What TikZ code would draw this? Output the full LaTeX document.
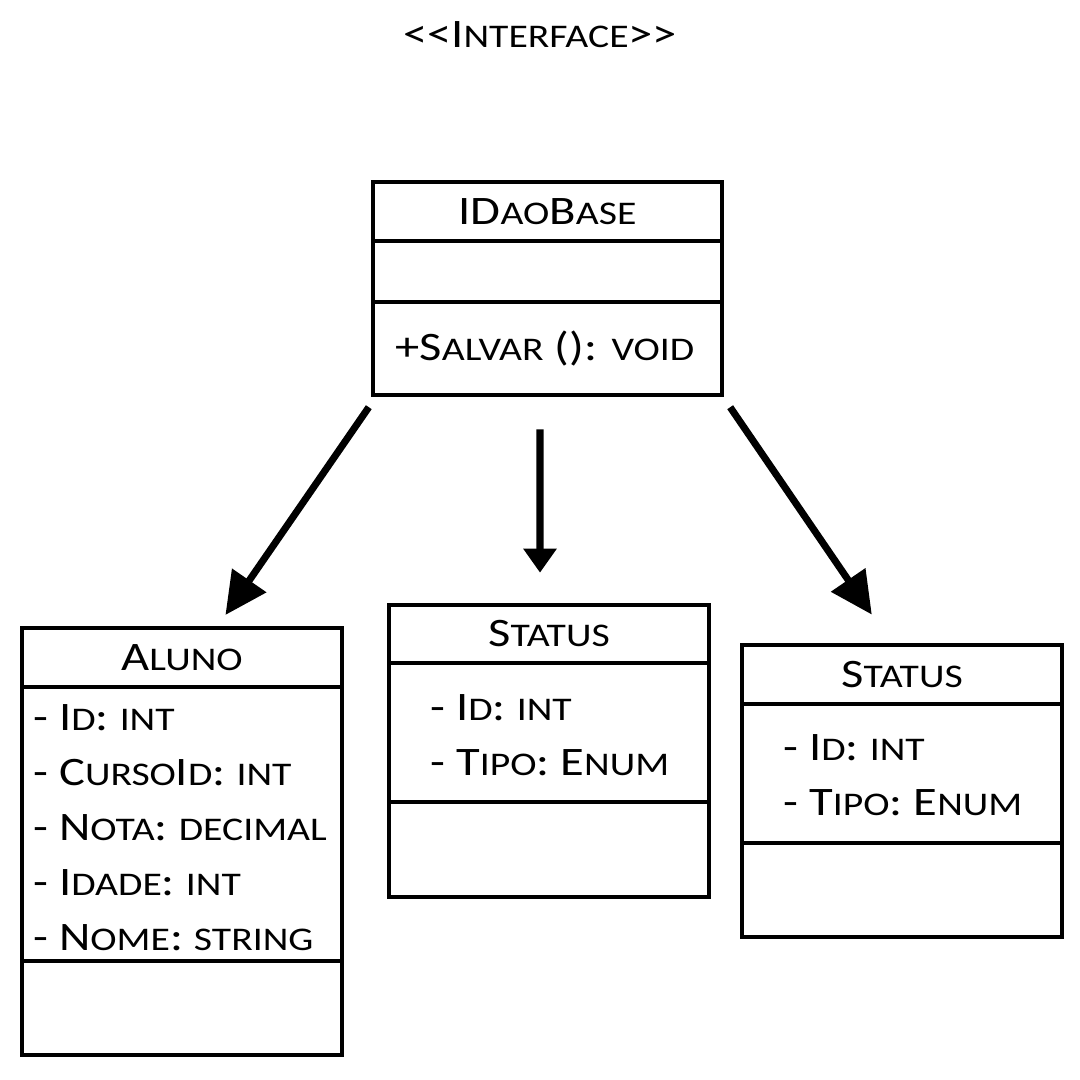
\documentclass[tikz,border=0pt]{standalone}
\usepackage{fontspec}
\setmainfont{Carlito}[FakeStretch=1.2]
\usetikzlibrary{arrows.meta}

\newcommand{\smc}[1]{{\fontsize{9.4pt}{10pt}\selectfont\MakeUppercase{#1}}}

\begin{document}
\begin{tikzpicture}[x=0.01cm, y=-0.01cm,
        box/.style = {draw, line width=1.3pt, minimum width=3.2cm, inner sep=0pt, font=\fontsize{11.5pt}{15.65pt}\selectfont},
        txt/.style = {anchor=west, align=left, inner sep=0pt, font=\fontsize{11.5pt}{15.65pt}\selectfont},
        arr/.style = {line width=2pt, -{Triangle[length=0.42cm, width=0.4cm]}}]
                \useasboundingbox (0,0) rectangle (1080,1080);

                \node[txt, anchor=center] at (540,35) (stereo) {<{}<I\smc{nterface}>{}>};

                \node[box, minimum width=3.49cm, minimum height=0.59cm] at (547.5,211.5) (daoTitle) {ID\smc{ao}B\smc{ase}};
                \node[box, minimum width=3.49cm, minimum height=0.61cm] at (547.5,271.5) (daoAttr) {};
                \node[box, minimum width=3.49cm, minimum height=0.93cm] at (547.5,348.5) (daoOps) {};
                \node[txt] at ([xshift=0.24cm]daoOps.west) (daoSalvar) {+S\smc{alvar} (): \smc{void}};

                \node[box, minimum height=0.59cm] at (182,657.5) (aluTitle) {A\smc{luno}};
                \node[box, minimum height=2.74cm] at (182,824) (aluAttr) {};
                \node[box, minimum height=0.94cm] at (182,1008) (aluOps) {};
                \node[txt] at ([xshift=0.13cm, yshift=-0.04cm]aluAttr.west) (aluList) {- I\smc{d}: \smc{int}\\
                    - C\smc{urso}I\smc{d}: \smc{int}\\
                    - N\smc{ota}: \smc{decimal}\\
                    - I\smc{dade}: \smc{int}\\
                    - N\smc{ome}: \smc{string}};

                \node[box, minimum height=0.58cm] at (549,634) (stOneTitle) {S\smc{tatus}};
                \node[box, minimum height=1.39cm] at (549,732.5) (stOneAttr) {};
                \node[box, minimum height=0.95cm] at (549,849.5) (stOneOps) {};
                \node[txt] at ([xshift=0.43cm, yshift=-0.03cm]stOneAttr.west) (stOneList) {- I\smc{d}: \smc{int}\\
                    - T\smc{ipo}: E\smc{num}};

                \node[box, minimum height=0.59cm] at (902,674.5) (stTwoTitle) {S\smc{tatus}};
                \node[box, minimum height=1.39cm] at (902,773.5) (stTwoAttr) {};
                \node[box, minimum height=0.94cm] at (902,890) (stTwoOps) {};
                \node[txt] at ([xshift=0.43cm, yshift=-0.02cm]stTwoAttr.west) (stTwoList) {- I\smc{d}: \smc{int}\\
                    - T\smc{ipo}: E\smc{num}};

                \draw [arr, shorten <=0.12cm, shorten >=0.13cm] ([xshift=0.05cm]daoOps.south west) -- ([xshift=0.36cm]aluTitle.north);
                \draw [arr, -{Triangle[length=0.24cm, width=0.32cm]}, shorten <=0.32cm, shorten >=0.30cm] ([xshift=-0.075cm]daoOps.south) -- ([xshift=-0.09cm]stOneTitle.north);
                \draw [arr, shorten <=0.12cm, shorten >=0.34cm] ([xshift=-0.01cm]daoOps.south east) -- ([xshift=-0.11cm]stTwoTitle.north);
\end{tikzpicture}
\end{document}
